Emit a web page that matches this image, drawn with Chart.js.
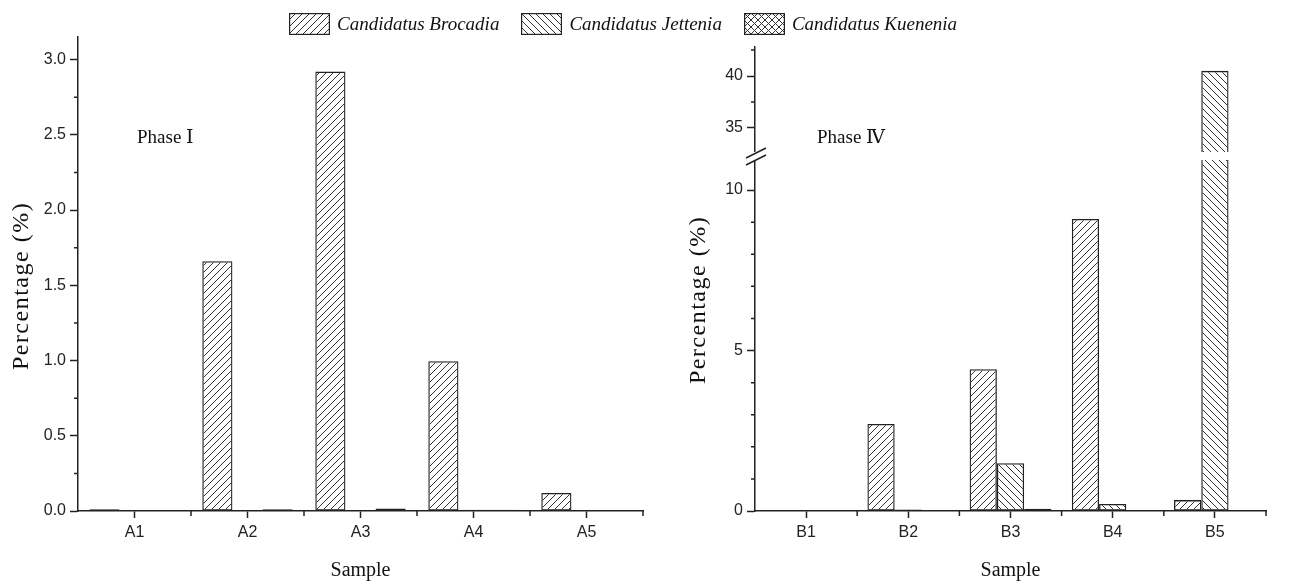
<!DOCTYPE html>
<html>
<head>
<meta charset="utf-8">
<script src="https://cdn.jsdelivr.net/npm/chart.js@4.4.1/dist/chart.umd.min.js"></script>
<style>
  body { margin: 0; background: #fff; width: 1316px; height: 583px; overflow: hidden; position: relative; }
  .panel { position: absolute; top: 0; height: 583px; }
  #left { left: 0; width: 660px; }
  #right { left: 660px; width: 656px; }
  #legend { position: absolute; top: 13px; left: 289px; display: flex; align-items: center; z-index: 2; }
  #legend .item { display: flex; align-items: center; margin-right: 22px; }
  #legend canvas { display: block; margin-right: 7px; }
  #legend span { font: italic 19px 'Liberation Serif', 'Times New Roman', serif; color: #111; }
</style>
</head>
<body>
<div id="legend"></div>
<div class="panel" id="left"><canvas id="chartA"></canvas></div>
<div class="panel" id="right"><canvas id="chartB"></canvas></div>
<script>
// ---- data ----
const seriesNames = ['Candidatus Brocadia', 'Candidatus Jettenia', 'Candidatus Kuenenia'];

const samplesA = ['A1', 'A2', 'A3', 'A4', 'A5'];
const brocadiaA = [0.012, 1.66, 2.92, 0.995, 0.12];
const jetteniaA = [0, 0, 0, 0.008, 0];
const kueneniaA = [0, 0.012, 0.016, 0.008, 0];

const samplesB = ['B1', 'B2', 'B3', 'B4', 'B5'];
const brocadiaB = [0, 2.71, 4.42, 9.1, 0.34];
const jetteniaB = [0, 0.05, 1.49, 0.22, 40.5];
const kueneniaB = [0, 0, 0.07, 0, 0];

const yTicksA = [0, 0.5, 1.0, 1.5, 2.0, 2.5, 3.0];
const yMinorA = [0.25, 0.75, 1.25, 1.75, 2.25, 2.75];
const yTicksB = [0, 5, 10, 35, 40];
const yMinorB = [1, 2, 3, 4, 6, 7, 8, 9, 37.5, 42.5];

const serif = "'Liberation Serif', 'DejaVu Serif', 'Noto Sans CJK SC', serif";
Chart.defaults.font.family = "'Liberation Sans', Arial, sans-serif";
Chart.defaults.font.size = 16;
Chart.defaults.color = '#222';

// hatch fills
function hatch(kind) {
  const s = 7;
  const c = document.createElement('canvas');
  c.width = c.height = s;
  const g = c.getContext('2d');
  g.strokeStyle = '#333';
  g.lineWidth = 1;
  g.beginPath();
  for (const k of [-s, 0, s]) {
    if (kind !== '\\') { g.moveTo(k, s); g.lineTo(k + s, 0); }
    if (kind !== '/') { g.moveTo(k, 0); g.lineTo(k + s, s); }
  }
  g.stroke();
  return g.createPattern(c, 'repeat');
}
const fills = [hatch('/'), hatch('\\'), hatch('x')];

// linear scale with a break between lowMax and highMin
class BrokenLinearScale extends Chart.LinearScale {
  static id = 'brokenLinear';
  static defaults = Chart.LinearScale.defaults;
  splitPixel() {
    return this.bottom - (this.bottom - this.top) * this.options.brk.lowFrac;
  }
  getPixelForValue(value) {
    const b = this.options.brk;
    const split = this.splitPixel();
    if (value <= b.lowMax) return this.bottom - (value - this.min) / (b.lowMax - this.min) * (this.bottom - split);
    if (value < b.highMin) return split;
    return split - (value - b.highMin) / (this.max - b.highMin) * (split - this.top);
  }
  getValueForPixel(pixel) {
    const b = this.options.brk;
    const split = this.splitPixel();
    if (pixel >= split) return this.min + (this.bottom - pixel) / (this.bottom - split) * (b.lowMax - this.min);
    return b.highMin + (split - pixel) / (split - this.top) * (this.max - b.highMin);
  }
}
Chart.register(BrokenLinearScale);

// minor ticks, axis break, phase label, y title
const decor = {
  id: 'decor',
  afterDraw(chart, args, o) {
    const { ctx, chartArea: a, scales: { x, y } } = chart;
    ctx.save();
    ctx.strokeStyle = '#222';
    ctx.lineWidth = 1.5;
    ctx.beginPath();
    o.yMinor.forEach(v => {
      const py = y.getPixelForValue(v);
      ctx.moveTo(a.left - 4, py);
      ctx.lineTo(a.left, py);
    });
    const n = x.ticks.length;
    for (let i = 1; i <= n; i++) {
      const px = i < n ? (x.getPixelForValue(i - 1) + x.getPixelForValue(i)) / 2 : a.right;
      ctx.moveTo(px, a.bottom);
      ctx.lineTo(px, a.bottom + 5);
    }
    ctx.stroke();

    if (o.breakAt !== undefined) {
      const by = y.getPixelForValue(o.breakAt);
      ctx.fillStyle = '#fff';
      ctx.fillRect(a.left - 3, by - 6, a.right - a.left + 3, 8);
      ctx.beginPath();
      ctx.moveTo(a.left - 9, by);
      ctx.lineTo(a.left + 11, by - 10);
      ctx.moveTo(a.left - 9, by + 7);
      ctx.lineTo(a.left + 11, by - 3);
      ctx.stroke();
    }

    ctx.fillStyle = '#111';
    ctx.textBaseline = 'middle';
    ctx.font = '19px ' + serif;
    ctx.fillText(o.phase, a.left + o.phaseDx, o.phaseY);

    ctx.translate(a.left - 56, (a.top + a.bottom) / 2 + o.titleDy);
    ctx.rotate(-Math.PI / 2);
    ctx.textAlign = 'center';
    ctx.letterSpacing = '1.5px';
    ctx.font = '24px ' + serif;
    ctx.fillText('Percentage (%)', 0, 0);
    ctx.restore();
  }
};

function datasets(values) {
  return values.map((v, i) => ({
    label: seriesNames[i],
    data: v,
    backgroundColor: fills[i],
    borderColor: '#222',
    borderWidth: 1.3,
    borderSkipped: false,
    categoryPercentage: 0.8,
    barPercentage: 1.0
  }));
}

function xAxis() {
  return {
    type: 'category',
    offset: true,
    afterFit: s => { s.height = 72; },
    border: { color: '#222', width: 1.5 },
    grid: { offset: false, drawOnChartArea: false, tickLength: 7, tickColor: '#222', tickWidth: 1.5 },
    ticks: { color: '#222', padding: 5, maxRotation: 0 },
    title: { display: true, text: 'Sample', color: '#111', font: { family: serif, size: 20 }, padding: 0 }
  };
}

function yAxis(ticks, fmt) {
  return {
    min: 0,
    afterBuildTicks: s => { s.ticks = ticks.map(v => ({ value: v })); },
    afterFit: s => { s.width = 74; },
    border: { color: '#222', width: 1.5 },
    grid: { drawOnChartArea: false, tickLength: 8, tickColor: '#222', tickWidth: 1.5 },
    ticks: { color: '#222', padding: 4, callback: fmt }
  };
}

const common = {
  responsive: true,
  maintainAspectRatio: false,
  animation: false,
  events: []
};

const yA = yAxis(yTicksA, v => v.toFixed(1));
yA.max = 3.15;

new Chart(document.getElementById('chartA'), {
  type: 'bar',
  data: { labels: samplesA, datasets: datasets([brocadiaA, jetteniaA, kueneniaA]) },
  options: {
    ...common,
    layout: { padding: { left: 4, right: 17, top: 37, bottom: 0 } },
    scales: { x: xAxis(), y: yA },
    plugins: {
      legend: { display: false },
      tooltip: { enabled: false },
      decor: { yMinor: yMinorA, phase: 'Phase Ⅰ', phaseDx: 59, phaseY: 138, titleDy: 12 }
    }
  },
  plugins: [decor]
});

const yB = yAxis(yTicksB, v => String(v));
yB.type = 'brokenLinear';
yB.max = 42.8;
yB.brk = { lowMax: 11, highMin: 32.1, lowFrac: 0.7608 };

new Chart(document.getElementById('chartB'), {
  type: 'bar',
  data: { labels: samplesB, datasets: datasets([brocadiaB, jetteniaB, kueneniaB]) },
  options: {
    ...common,
    layout: { padding: { left: 21, right: 50, top: 47, bottom: 0 } },
    scales: { x: xAxis(), y: yB },
    plugins: {
      legend: { display: false },
      tooltip: { enabled: false },
      decor: { yMinor: yMinorB, breakAt: 11, phase: 'Phase Ⅳ', phaseDx: 62, phaseY: 138, titleDy: 21 }
    }
  },
  plugins: [decor]
});

// HTML legend built from the dataset names and fills
const legend = document.getElementById('legend');
seriesNames.forEach((name, i) => {
  const item = document.createElement('div');
  item.className = 'item';
  const sw = document.createElement('canvas');
  sw.width = 41; sw.height = 22;
  const g = sw.getContext('2d');
  g.fillStyle = fills[i];
  g.fillRect(0, 0, 41, 22);
  g.strokeStyle = '#222';
  g.lineWidth = 1.2;
  g.strokeRect(0.6, 0.6, 39.8, 20.8);
  const label = document.createElement('span');
  label.textContent = name;
  item.appendChild(sw);
  item.appendChild(label);
  legend.appendChild(item);
});
</script>
</body>
</html>
